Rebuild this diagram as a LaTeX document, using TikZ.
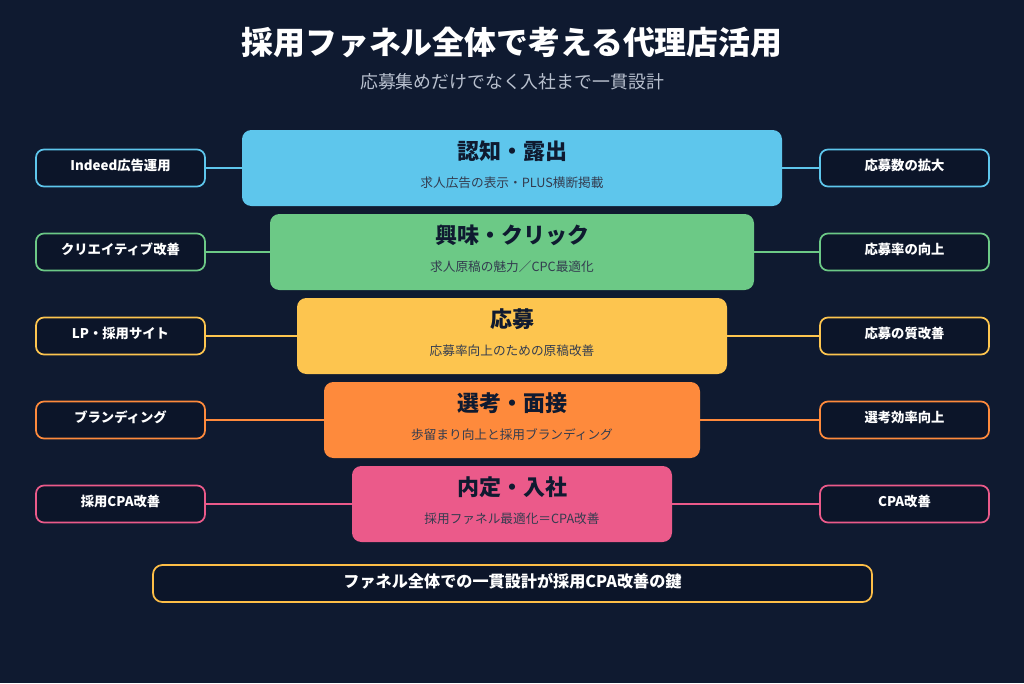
\documentclass[tikz,border=0pt]{standalone}
\usepackage{fontspec}
\setmainfont{Noto Sans CJK JP}
\definecolor{bg}{HTML}{0F1A30}
\definecolor{sbg}{HTML}{0C1529}
\definecolor{cA}{HTML}{5EC6EC}
\definecolor{cB}{HTML}{6CC986}
\definecolor{cC}{HTML}{FDC54F}
\definecolor{cD}{HTML}{FE8A3C}
\definecolor{cE}{HTML}{EB5A8A}
\definecolor{txt}{HTML}{0F1A30}
\definecolor{sub}{HTML}{B8C0CE}
\begin{document}
\begin{tikzpicture}[x=0.75pt,y=-0.75pt,
  stage/.style={rounded corners=7pt,inner sep=0pt},
  side/.style={draw=#1,line width=1.3pt,fill=sbg,rounded corners=6pt,minimum width=169*0.75pt,minimum height=37*0.75pt,inner sep=0pt},
  conn/.style={draw=#1,line width=1.3pt},
  st/.style={font=\bfseries\fontsize{16.5}{18}\selectfont,text=txt},
  ss/.style={font=\fontsize{9.5}{11}\selectfont,text=txt!85!white},
  sl/.style={font=\bfseries\fontsize{10}{12}\selectfont,text=white}]
\fill[bg] (0,0) rectangle (1024,683);
\useasboundingbox (0,0) rectangle (1024,683);
\node[font=\bfseries\fontsize{23.9}{27}\selectfont,text=white] (title) at (512,42) {採用ファネル全体で考える代理店活用};
\node[font=\fontsize{13.4}{15}\selectfont,text=sub] (subt) at (512,82) {応募集めだけでなく入社まで一貫設計};
\foreach \i/\xl/\xr/\c/\T/\S/\L/\R in {
 0/242/782/cA/認知・露出/求人広告の表示・PLUS横断掲載/Indeed広告運用/応募数の拡大,
 1/270/754/cB/興味・クリック/求人原稿の魅力／CPC最適化/クリエイティブ改善/応募率の向上,
 2/297/727/cC/応募/応募率向上のための原稿改善/LP・採用サイト/応募の質改善,
 3/324/700/cD/選考・面接/歩留まり向上と採用ブランディング/ブランディング/選考効率向上,
 4/352/672/cE/内定・入社/採用ファネル最適化＝CPA改善/採用CPA改善/CPA改善}{
  \pgfmathsetmacro\yt{130+84*\i}
  \pgfmathsetmacro\yb{\yt+76}
  \pgfmathsetmacro\ym{\yt+38}
  \fill[\c,stage] (\xl,\yt) rectangle (\xr,\yb);
  \coordinate (sl\i) at (\xl,\ym);
  \coordinate (sr\i) at (\xr,\ym);
  \node[st] (t\i) at ({(\xl+\xr)/2},\yt+21) {\T};
  \node[ss] (s\i) at ({(\xl+\xr)/2},\yt+53) {\S};
  \node[side=\c] (l\i) at (120.5,\ym) {};
  \node[sl] at (120.5,\ym-3) {\L};
  \node[side=\c] (r\i) at (904.5,\ym) {};
  \node[sl] at (904.5,\ym-3) {\R};
  \draw[conn=\c] (l\i.east) -- (sl\i);
  \draw[conn=\c] (r\i.west) -- (sr\i);
}
\node[draw=cC!90!orange,line width=1.3pt,fill=sbg,rounded corners=7pt,minimum width=719*0.75pt,minimum height=37*0.75pt,inner sep=0pt] (key) at (512.5,583.5) {};
\node[sl,font=\bfseries\fontsize{12.1}{14}\selectfont] at (512.5,581) {ファネル全体での一貫設計が採用CPA改善の鍵};
\end{tikzpicture}
\end{document}
